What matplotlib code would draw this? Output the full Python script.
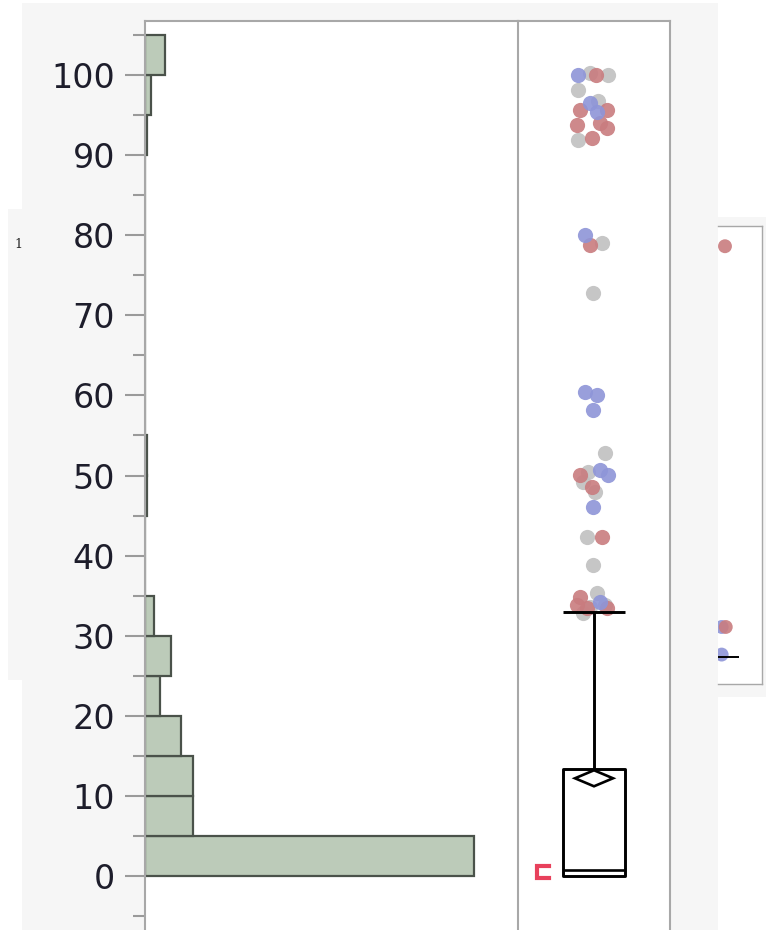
import numpy as np
import matplotlib.pyplot as plt
from matplotlib.patches import Rectangle, Polygon

# histogram bins (width 5) and bar lengths
bin_edges = np.arange(0, 110, 5)
counts = [219, 32, 32, 24, 10, 17, 6, 0, 0, 1, 1, 0, 0, 0, 0, 0, 0, 0, 1, 4, 13]

# jittered points, one list per group
blue_vals = [100.0, 96.5, 95.4, 80.0, 60.4, 60.0, 58.2, 50.7, 50.1, 46.1, 34.2]
blue_x = [0.395, 0.474, 0.520, 0.441, 0.441, 0.520, 0.493, 0.539, 0.592, 0.493, 0.539]
red_vals = [100.0, 95.6, 95.6, 93.8, 94.0, 93.4, 92.1, 78.8, 50.1, 48.6, 42.3, 34.8, 33.8, 33.5, 33.5]
red_x = [0.513, 0.408, 0.586, 0.388, 0.539, 0.586, 0.487, 0.474, 0.408, 0.487, 0.553, 0.408, 0.388, 0.454, 0.586]
gray_vals = [100.2, 100.0, 98.1, 96.8, 91.9, 79.0, 72.8, 52.8, 50.4, 49.2, 47.9, 42.3, 38.8, 35.3, 33.8, 33.6, 32.8]
gray_x = [0.474, 0.592, 0.395, 0.526, 0.395, 0.553, 0.493, 0.572, 0.461, 0.428, 0.507, 0.454, 0.493, 0.520, 0.572, 0.474, 0.428]

# box plot summary
q1, median, q3 = 0.0, 0.8, 13.3
whisker_hi = 33.0
mean, mean_ci = 12.2, 1.0
shortest_half = (0.0, 1.0)

# small second copy on the right edge
frag_vals = [100.0, 37.9, 37.9, 33.4]
frag_x = [0.5, 0.478, 0.505, 0.478]
frag_cols = ["red", "blue", "red", "blue"]

yticks = np.arange(0, 101, 10)

W, H = 766, 930
BG = "#f6f6f6"
FRAME = "#a8a8a8"
COLORS = {"blue": "#8e95d8", "red": "#c97c7f", "gray": "#c0c0c0"}


def frac(x0, y0, x1, y1):
    return [x0 / W, 1 - y1 / H, (x1 - x0) / W, (y1 - y0) / H]


def rect(x0, y0, x1, y1, color):
    fig.add_artist(Rectangle((x0 / W, 1 - y1 / H), (x1 - x0) / W, (y1 - y0) / H,
                             transform=fig.transFigure, facecolor=color,
                             edgecolor="none", zorder=0))


fig = plt.figure(figsize=(W / 100, H / 100), dpi=100, facecolor="white")
rect(22, 3, 718, 930, BG)
rect(8, 209, 22, 680, BG)
rect(718, 217, 766, 697, BG)
fig.text(18 / W, 1 - 245 / H, "1", fontsize=9, family="DejaVu Serif",
         color="#222222", ha="center", va="center")

# value axis: 0 sits at y=876px, 8.01 px per unit
ppu = 8.01
ylim = ((876 - 930) / ppu, (876 - 21) / ppu)

ax = fig.add_axes(frac(145, 21, 518, 930))
ax.barh(bin_edges[:-1], counts, height=5, align="edge", color="#bccbb9",
        edgecolor="#4a524a", linewidth=1.6)
ax.set_xlim(0, 373 / 1.5)
ax.set_ylim(*ylim)
ax.set_yticks(yticks)
ax.set_yticks(np.arange(-5, 106, 10), minor=True)
ax.set_xticks([])
ax.tick_params(axis="y", which="major", length=14.5, width=1.5, color="#9a9a9a",
               labelsize=24, labelcolor="#1d1d2b", pad=7)
ax.tick_params(axis="y", which="minor", length=8.5, width=1.5, color="#9a9a9a")
for side in ["right", "bottom"]:
    ax.spines[side].set_visible(False)
for side in ["left", "top"]:
    ax.spines[side].set_color(FRAME)
    ax.spines[side].set_linewidth(1.5)

# box plot with jittered points
bx = fig.add_axes(frac(518, 21, 670, 930))
bx.set_xlim(0, 1)
bx.set_ylim(*ylim)
bx.set_xticks([])
bx.set_yticks([])
bx.spines["bottom"].set_visible(False)
for side in ["left", "top", "right"]:
    bx.spines[side].set_color(FRAME)
    bx.spines[side].set_linewidth(1.5)

bx.scatter(gray_x, gray_vals, s=120, color=COLORS["gray"], alpha=0.9, lw=0, zorder=2)
bx.scatter(red_x, red_vals, s=120, color=COLORS["red"], alpha=0.9, lw=0, zorder=2)
bx.scatter(blue_x, blue_vals, s=120, color=COLORS["blue"], alpha=0.9, lw=0, zorder=2)

half_w = 0.204
bx.add_patch(Rectangle((0.5 - half_w, q1), 2 * half_w, q3 - q1, facecolor="none",
                       edgecolor="black", linewidth=2.1, joinstyle="round", zorder=3))
bx.hlines(median, 0.5 - half_w, 0.5 + half_w, color="black", lw=1.9, zorder=3)
bx.vlines(0.5, q3, whisker_hi, color="black", lw=2.1, zorder=3)
bx.hlines(whisker_hi, 0.5 - half_w, 0.5 + half_w, color="black", lw=2.1, zorder=3)
bx.add_patch(Polygon([(0.5, mean + mean_ci), (0.375, mean), (0.5, mean - mean_ci),
                      (0.625, mean)], closed=True, facecolor="none",
                     edgecolor="black", linewidth=1.9, zorder=3))

# shortest half bracket, drawn a little taller than the interval itself
pad = 0.2
sx0, sx1 = 0.128, 0.205
bx.plot([sx1, sx0, sx0, sx1], [shortest_half[1] + pad, shortest_half[1] + pad,
        shortest_half[0] - pad, shortest_half[0] - pad], color="#e8415c", lw=3,
        solid_joinstyle="miter", zorder=3)

# clipped copy at the right edge
fx = fig.add_axes(frac(718, 226, 762, 684))
fx.set_facecolor("white")
fx.set_xlim(0.454, 0.454 + 44 / 152)
fx.set_ylim(28.6, 103.3)
fx.set_xticks([])
fx.set_yticks([])
fx.spines["left"].set_visible(False)
for side in ["top", "right", "bottom"]:
    fx.spines[side].set_color(FRAME)
    fx.spines[side].set_linewidth(1.0)
fx.scatter(frag_x, frag_vals, s=100, color=[COLORS[c] for c in frag_cols],
           alpha=0.9, lw=0, zorder=2)
fx.hlines(whisker_hi, 0.41, 0.59, color="black", lw=1.4, zorder=3)

fig.savefig("out.png", dpi=100, facecolor="white")
